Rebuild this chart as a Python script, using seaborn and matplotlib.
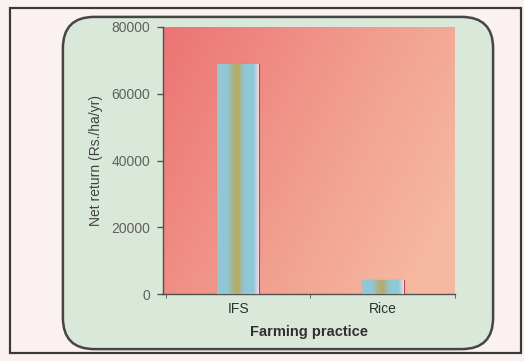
import matplotlib.pyplot as plt
import matplotlib.patches as mpatches
from matplotlib.colors import LinearSegmentedColormap
import numpy as np
import pandas as pd
import seaborn as sns

# data
practice = ["IFS", "Rice"]
net_return = [69000, 4200]
yticks = [0, 20000, 40000, 60000, 80000]

sns.set_style("white")
plt.rcParams['font.family'] = ['Liberation Sans', 'DejaVu Sans']

fig = plt.figure(figsize=(5.24, 3.61), dpi=100)
fig.patch.set_facecolor("#fbf1f1")

# outer frame and rounded green panel
fig.patches.append(mpatches.Rectangle((10 / 524, 1 - 353 / 361), 511 / 524, 345 / 361,
                                      transform=fig.transFigure, fill=False,
                                      edgecolor="#3a3a3a", linewidth=1.6, zorder=-2))
fig.patches.append(mpatches.FancyBboxPatch((76 / 524, 1 - 336 / 361), 404 / 524, 306 / 361,
                                           boxstyle="round,pad=0.025,rounding_size=0.06",
                                           transform=fig.transFigure, facecolor="#dae8da",
                                           edgecolor="#454545", linewidth=1.8, zorder=-1,
                                           mutation_aspect=524 / 361))

ax = fig.add_axes([163 / 524, 1 - 294 / 361, 292 / 524, 267 / 361])
ax.set_zorder(1)
df = pd.DataFrame({"practice": practice, "net_return": net_return})
sns.barplot(data=df, x="practice", y="net_return", color="#8ec8d8", width=0.29,
            edgecolor="#b04848", linewidth=0.8, ax=ax, zorder=3)

# pink-to-peach gradient background
gx, gy = np.meshgrid(np.linspace(0, 1, 200), np.linspace(0, 1, 200))
t = np.clip(0.75 * gx + 0.35 * gy, 0, 1)
bg = LinearSegmentedColormap.from_list("bg", ["#ec7474", "#f2a090", "#f7c6aa"])
ax.imshow(t, cmap=bg, extent=[-0.52, 1.5, 0, 80000], aspect="auto", origin="upper",
          zorder=0, vmin=0, vmax=1.2)

# striped bar fill
stripe = LinearSegmentedColormap.from_list(
    "st", ["#a0c4cc", "#8ec8d8", "#92c6d4", "#a8b488", "#b8aa62", "#94c2cc", "#8ec8d8", "#8ec8d8", "#f0d8e0"])
row = np.linspace(0, 1, 100)[None, :]
for p in list(ax.patches):
    x0, w, h = p.get_x(), p.get_width(), p.get_height()
    im = ax.imshow(row, cmap=stripe, extent=[x0, x0 + w, 0, h], aspect="auto", zorder=3.5)
    im.set_clip_path(p)
ax.set_xlim(-0.52, 1.5)
ax.set_ylim(0, 80000)

for s in ["top", "right"]:
    ax.spines[s].set_visible(False)
for s in ["left", "bottom"]:
    ax.spines[s].set_color("#505050")
    ax.spines[s].set_linewidth(1.0)

ax.set_yticks(yticks)
ax.set_yticklabels([str(v) for v in yticks])
ax.tick_params(axis="y", direction="out", length=4, width=1, color="#505050", left=True,
               labelsize=10, labelcolor="#606060", pad=5)
ax.tick_params(axis="x", length=0, labelsize=10, labelcolor="#303030", pad=6)
ax.set_xticks([-0.5, 0.5, 1.5], minor=True)
ax.tick_params(axis="x", which="minor", direction="out", length=3, color="#505050", bottom=True)

ax.set_xlabel("Farming practice", fontsize=10.5, fontweight="bold", color="#303030", labelpad=6)
ax.set_ylabel("Net return (Rs./ha/yr)", fontsize=10, color="#404040", labelpad=6)

fig.savefig("out.png", dpi=100)
